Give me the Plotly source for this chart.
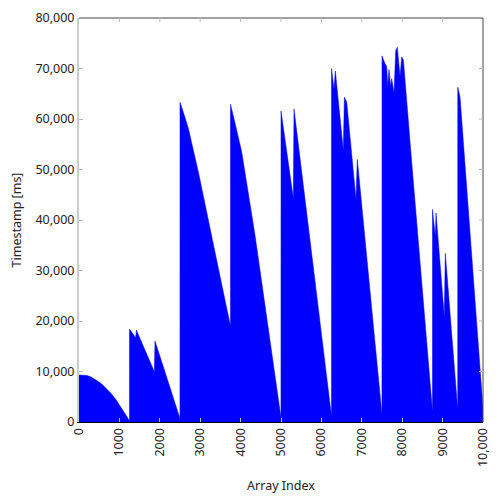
import plotly.graph_objects as go

# vertices of the filled area (array index, timestamp in ms)
index = [0, 100, 200, 300, 400, 500, 600, 700, 800, 900, 1000, 1100, 1200, 1249,
         1250, 1403, 1419, 1865, 1881, 2499,
         2500, 2600, 2706, 2953, 3201, 3449, 3749,
         3750, 3870, 4026, 4356, 4604, 4851, 4999,
         5000, 5305, 5322, 5553, 5800, 6047, 6249,
         6250, 6312, 6345, 6542, 6569, 6626, 6856, 6889, 7499,
         7500, 7574, 7616, 7641, 7673, 7715, 7740, 7797, 7839, 7879, 7946, 7988, 8030, 8210, 8749,
         8750, 8820, 8837, 9042, 9067, 9374,
         9375, 9431, 9999]
timestamp = [9300, 9280, 9200, 8900, 8450, 7900, 7250, 6500, 5600, 4600, 3400, 2250, 900, 150,
             18400, 16700, 18200, 9970, 16050, 700,
             63300, 60900, 58150, 49570, 40330, 30430, 19000,
             62900, 58900, 53530, 37030, 23170, 9300, 900,
             61600, 44300, 62000, 47000, 30750, 15000, 1200,
             70000, 65900, 69500, 53800, 64300, 63400, 44100, 52000, 1500,
             72500, 71000, 70400, 66400, 69800, 66400, 68000, 65100, 73500, 74200, 68400, 72300, 71700, 53900, 2200,
             42100, 36700, 41400, 20900, 33400, 2500,
             66300, 64400, 2800]

x_ticks = [0, 1000, 2000, 3000, 4000, 5000, 6000, 7000, 8000, 9000, 10000]
x_labels = ['0', '1000', '2000', '3000', '4000', '5000', '6000', '7000', '8000', '9000', '10,000']
y_ticks = [0, 10000, 20000, 30000, 40000, 50000, 60000, 70000, 80000]
y_labels = ['0', '10,000', '20,000', '30,000', '40,000', '50,000', '60,000', '70,000', '80,000']

fig = go.Figure(go.Scatter(x=index, y=timestamp, mode='lines', fill='tozeroy',
                           fillcolor='#0000ff', line=dict(color='#0000ff', width=0.5),
                           hoverinfo='skip'))

# page body has an 8px margin, so the figure is 492px and shifted
fig.update_layout(width=492, height=492, showlegend=False,
                  paper_bgcolor='white', plot_bgcolor='white',
                  margin=dict(l=71, r=17, t=10, b=78),
                  font=dict(family='Noto Sans', size=12.5, color='#222'))
fig.update_xaxes(range=[0, 10000], tickvals=x_ticks, ticktext=x_labels, tickangle=-90,
                 showgrid=False, zeroline=False, showline=True, linecolor='black', linewidth=1,
                 ticks='inside', ticklen=4, tickcolor='#bbb', automargin=False,
                 title=dict(text='Array Index', font=dict(size=12.5)))
fig.update_yaxes(range=[0, 80000], tickvals=y_ticks, ticktext=y_labels,
                 showgrid=False, zeroline=False, showline=True, linecolor='#ccc', linewidth=2,
                 ticks='inside', ticklen=4, tickcolor='#bbb', automargin=False,
                 title=dict(text='Timestamp [ms]', font=dict(size=12.5)))
# top and right frame edges
fig.add_shape(type='line', xref='paper', yref='paper', x0=0, x1=1, y0=1, y1=1,
              line=dict(color='#444', width=1))
fig.add_shape(type='line', xref='paper', yref='paper', x0=1, x1=1, y0=0, y1=1,
              line=dict(color='#444', width=1))
# mirrored ticks on the top and right edges
for t in x_ticks[1:-1]:
    fig.add_shape(type='line', xref='x', yref='paper', x0=t, x1=t, y0=1, y1=0.99,
                  line=dict(color='#bbb', width=1))
for t in y_ticks[1:-1]:
    fig.add_shape(type='line', xref='paper', yref='y', x0=1, x1=0.99, y0=t, y1=t,
                  line=dict(color='#bbb', width=1))

fig.write_html("out.html")
